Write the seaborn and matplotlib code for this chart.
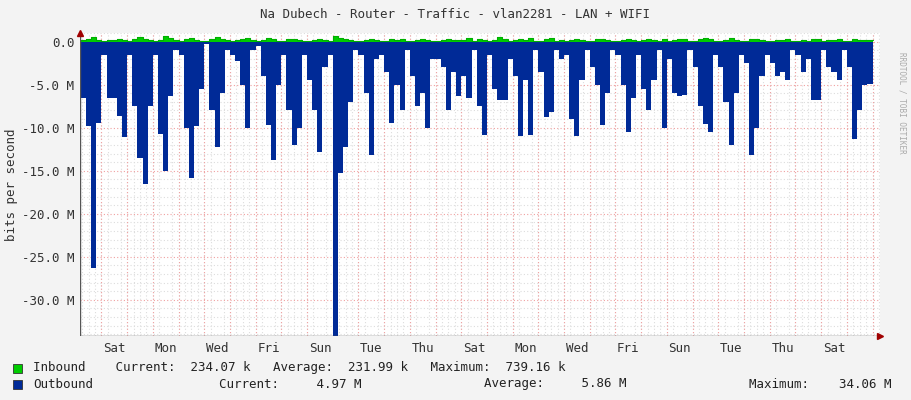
import numpy as np
import matplotlib
matplotlib.use("Agg")
import matplotlib.pyplot as plt
import seaborn as sns
from matplotlib.ticker import FuncFormatter, MultipleLocator

# outbound traffic in Mbit/s, one value per 4.8 h step (first 4 steps before first midnight)
outbound = [
    6.5, 9.8, 26.3, 9.5,
    1.5, 6.5, 6.5, 8.7, 11.1,
    1.5, 7.5, 13.5, 16.5, 7.5,
    1.5, 10.7, 15.0, 6.3, 1.0,
    1.5, 10.0, 15.8, 9.8, 5.5,
    0.3, 8.0, 12.3, 6.0, 1.0,
    1.5, 2.3, 5.0, 10.0, 1.0,
    0.5, 4.0, 9.7, 13.8, 5.0,
    1.5, 8.0, 12.0, 10.0, 1.5,
    4.5, 8.0, 12.8, 3.0, 1.5,
    34.2, 15.3, 12.3, 7.0, 1.0,
    1.5, 6.0, 13.2, 2.0, 1.5,
    3.5, 9.4, 5.0, 7.9, 1.0,
    4.0, 7.5, 6.0, 10.0, 2.0,
    2.0, 3.0, 8.0, 3.5, 6.3,
    4.0, 6.5, 1.0, 7.5, 10.8,
    1.5, 5.5, 6.8, 6.8, 2.0,
    4.0, 11.0, 4.5, 10.8, 1.0,
    3.5, 8.8, 8.2, 1.0, 2.0,
    1.5, 9.0, 11.0, 4.5, 1.0,
    3.0, 5.0, 9.7, 6.0, 1.0,
    1.5, 5.0, 10.5, 6.5, 1.5,
    5.5, 8.0, 4.5, 1.0, 10.0,
    2.0, 6.0, 6.3, 6.2, 1.0,
    3.0, 7.5, 9.6, 10.5, 1.5,
    3.0, 7.0, 12.0, 6.0, 1.5,
    2.5, 13.2, 10.0, 4.0, 1.5,
    2.5, 4.0, 3.5, 4.5, 1.0,
    1.5, 3.5, 2.0, 6.8, 6.8,
    1.0, 3.0, 3.5, 4.5, 1.0,
    3.0, 11.3, 7.9, 5.0, 4.97,
]
# inbound traffic in Mbit/s, same steps
inbound = [
    0.2, 0.3, 0.5, 0.2,
    0.1, 0.2, 0.2, 0.3, 0.2,
    0.1, 0.3, 0.5, 0.3, 0.2,
    0.1, 0.2, 0.6, 0.4, 0.2,
    0.1, 0.3, 0.4, 0.2, 0.1,
    0.1, 0.3, 0.5, 0.3, 0.2,
    0.1, 0.2, 0.3, 0.4, 0.2,
    0.1, 0.2, 0.4, 0.3, 0.1,
    0.1, 0.3, 0.3, 0.2, 0.1,
    0.1, 0.2, 0.3, 0.2, 0.1,
    0.7, 0.4, 0.3, 0.2, 0.1,
    0.1, 0.2, 0.3, 0.2, 0.1,
    0.1, 0.3, 0.2, 0.3, 0.1,
    0.1, 0.2, 0.3, 0.2, 0.1,
    0.1, 0.2, 0.3, 0.2, 0.2,
    0.2, 0.4, 0.1, 0.3, 0.2,
    0.1, 0.2, 0.5, 0.3, 0.1,
    0.2, 0.3, 0.2, 0.4, 0.1,
    0.1, 0.3, 0.4, 0.1, 0.2,
    0.1, 0.2, 0.3, 0.2, 0.1,
    0.1, 0.3, 0.3, 0.2, 0.1,
    0.1, 0.2, 0.3, 0.2, 0.1,
    0.2, 0.3, 0.2, 0.1, 0.3,
    0.1, 0.2, 0.3, 0.3, 0.1,
    0.1, 0.3, 0.4, 0.3, 0.1,
    0.1, 0.2, 0.4, 0.2, 0.1,
    0.1, 0.3, 0.3, 0.2, 0.1,
    0.1, 0.2, 0.2, 0.3, 0.1,
    0.1, 0.2, 0.1, 0.3, 0.3,
    0.1, 0.2, 0.2, 0.3, 0.1,
    0.1, 0.3, 0.2, 0.2, 0.23,
]
day_labels = ["Sat", "Mon", "Wed", "Fri", "Sun", "Tue", "Thu", "Sat",
              "Mon", "Wed", "Fri", "Sun", "Tue", "Thu", "Sat"]

step_h = 4.8
t = (np.arange(len(outbound) + 1) - 4) * step_h
out_vals = -np.array(outbound + [outbound[-1]])
in_vals = np.array(inbound + [inbound[-1]])

sns.set_style("white")
plt.rcParams["font.family"] = ["DejaVu Sans Mono", "DejaVu Sans"]

fig = plt.figure(figsize=(9.11, 4.0), dpi=100, facecolor="#F3F3F3")
ax = fig.add_axes([80 / 911, 64 / 400, 800 / 911, 303 / 400])
ax.set_facecolor("white")

ax.fill_between(t, out_vals, 0, step="post", color="#002A97", lw=0, zorder=3)
ax.fill_between(t, in_vals, 0, step="post", color="#00CC00", lw=0, zorder=3)
sns.lineplot(x=t, y=in_vals, drawstyle="steps-post", color="#00B000", lw=0.8, ax=ax, zorder=4)

ax.set_xlim(-20, 727)
ax.set_ylim(-34.2, 1.0)

# grid like rrdtool
ax.xaxis.set_minor_locator(MultipleLocator(6))
ax.yaxis.set_major_locator(MultipleLocator(5))
ax.yaxis.set_minor_locator(MultipleLocator(1))
ax.grid(which="minor", color="#DDDDDD", ls=(0, (1, 2)), lw=0.8, zorder=1)
ax.yaxis.grid(True, which="major", color="#F0A0A0", ls=(0, (1, 2)), lw=0.8, zorder=2)
for i in range(31):
    ax.axvline(24 * i, color="#F0A0A0", ls=(0, (1, 2)), lw=0.8, zorder=2)

ax.set_xticks([12 + 48 * i for i in range(len(day_labels))])
ax.set_xticklabels(day_labels)
ax.xaxis.grid(False, which="major")
ax.yaxis.set_major_formatter(FuncFormatter(lambda v, p: "0.0" if abs(v) < 1e-9 else "%.1f M" % v))
ax.tick_params(axis="both", labelsize=9, length=0, colors="#333333", pad=4)

for s in ax.spines.values():
    s.set_visible(False)
ax.axhline(-34.2, color="#555555", lw=1, zorder=5)
ax.axvline(-20, color="#555555", lw=1, zorder=5)
ax.plot([727], [-34.2], marker=">", color="#A00000", ms=4, clip_on=False, zorder=6)
ax.plot([-20], [1.0], marker="^", color="#A00000", ms=4, clip_on=False, zorder=6)

fig.text(12 / 911, 1 - 185 / 400, "bits per second", rotation=90, ha="center", va="center",
         fontsize=9, color="#333333")
fig.text(0.5, 1 - 14 / 400, "Na Dubech - Router - Traffic - vlan2281 - LAN + WIFI",
         ha="center", va="center", fontsize=9, color="#333333")
fig.text(902 / 911, 0.87, "RRDTOOL / TOBI OETIKER", rotation=270, ha="center", va="top",
         fontsize=5.5, color="#AAAAAA")

fig.patches.append(plt.Rectangle((13 / 911, 1 - 373 / 400), 9 / 911, 9 / 400,
                                 transform=fig.transFigure, facecolor="#00CC00", edgecolor="#333333", lw=0.6))
fig.patches.append(plt.Rectangle((13 / 911, 1 - 389 / 400), 9 / 911, 9 / 400,
                                 transform=fig.transFigure, facecolor="#002A97", edgecolor="#333333", lw=0.6))
fs = 9
fig.text(33 / 911, 1 - 368 / 400, "Inbound    Current:  234.07 k   Average:  231.99 k   Maximum:  739.16 k",
         va="center", fontsize=fs, color="#222222")
fig.text(33 / 911, 1 - 384 / 400, "Outbound", va="center", fontsize=fs, color="#222222")
fig.text(219 / 911, 1 - 384 / 400, "Current:     4.97 M", va="center", fontsize=fs, color="#222222")
fig.text(484 / 911, 1 - 384 / 400, "Average:     5.86 M", va="center", fontsize=fs, color="#222222")
fig.text(749 / 911, 1 - 384 / 400, "Maximum:    34.06 M", va="center", fontsize=fs, color="#222222")

fig.savefig("out.png", dpi=100, facecolor=fig.get_facecolor())
